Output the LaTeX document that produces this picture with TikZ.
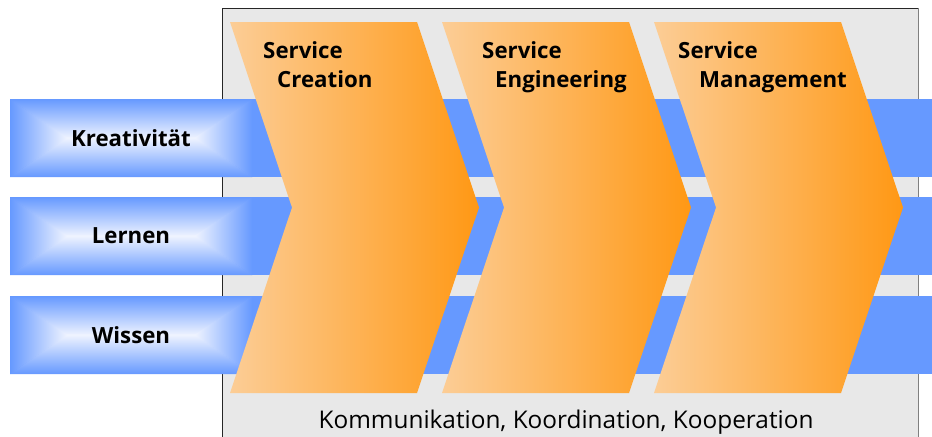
\documentclass[tikz,border=0pt]{standalone}
\usepackage{fontspec}
\setmainfont{Open Sans}
\definecolor{bandblue}{RGB}{102,153,255}
\definecolor{glowwhite}{RGB}{240,244,255}
\definecolor{boxgrey}{RGB}{232,232,232}
\definecolor{orangelight}{RGB}{252,205,150}
\definecolor{orangedark}{RGB}{255,152,20}
\tikzset{
  phase/.style={left color=orangelight, right color=orangedark},
  phasetext/.style={anchor=base west, inner sep=0pt, font=\fontsize{19}{22}\selectfont\bfseries},
  labeltext/.style={inner sep=0pt, font=\fontsize{19}{22}\selectfont\bfseries},
  commtext/.style={anchor=base, inner sep=0pt, font=\fontsize{20.8}{24}\selectfont},
}
\begin{document}
\begin{tikzpicture}[x=0.03cm, y=-0.03cm]
            \useasboundingbox (0,0) rectangle (932,436);
            % 灰色背景框
            \fill[boxgrey] (222,8) rectangle (918,440);
            \draw[black!85, line width=0.8pt] (222,440) -- (222,8) -- (918,8);
            \draw[black!50, line width=0.8pt] (918,8) -- (918,440);

            % 蓝色横条, 左侧标签格带渐变
            \foreach \y in {99,197,296} {
                \fill[bandblue] (10,\y) rectangle (932,\y+78);
                \shade[top color=bandblue, bottom color=glowwhite] (10,\y) -- (252,\y) -- (195,\y+39.5) -- (67,\y+39.5) -- cycle;
                \shade[bottom color=bandblue, top color=glowwhite] (10,\y+78) -- (252,\y+78) -- (195,\y+38.5) -- (67,\y+38.5) -- cycle;
                \shade[left color=bandblue, right color=glowwhite] (10,\y) -- (67.5,\y+39) -- (10,\y+78) -- cycle;
                \shade[right color=bandblue, left color=glowwhite] (252,\y) -- (194.5,\y+39) -- (252,\y+78) -- cycle;
            }
            \node[labeltext] (kreativ) at (131,138) {Kreativität};
            \node[labeltext] (lernen) at (131,236) {Lernen};
            \node[labeltext] (wissen) at (131,335) {Wissen};

            % 三个橙色箭头 (phase)
            \foreach \x in {230,442,654} {
                \shade[phase] (\x,22) -- (\x+187,22) -- (\x+249,207.5) -- (\x+187,393) -- (\x,393) -- (\x+62,207.5) -- cycle;
            }

            % 箭头上的标题
            \node[phasetext] (creationA) at (263,58) {Service};
            \node[phasetext] (creationB) at (277,87) {Creation};
            \node[phasetext] (engineerA) at (482,58) {Service};
            \node[phasetext] (engineerB) at (495,87) {Engineering};
            \node[phasetext] (manageA) at (678,58) {Service};
            \node[phasetext] (manageB) at (699,87) {Management};

            % 底部文字
            \node[commtext] (komm) at (566,428) {Kommunikation, Koordination, Kooperation};
\end{tikzpicture}
\end{document}
